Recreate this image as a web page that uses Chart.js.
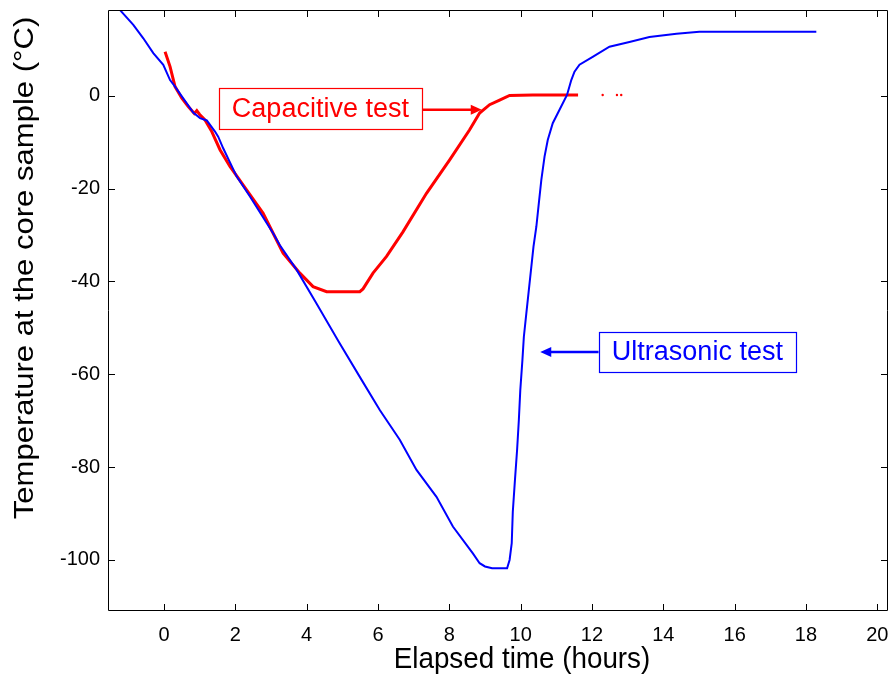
<!DOCTYPE html>
<html>
<head>
<meta charset="utf-8">
<script src="https://cdn.jsdelivr.net/npm/chart.js@4"></script>
<style>
  html, body { margin: 0; padding: 0; background: #fff; }
  canvas { display: block; }
</style>
</head>
<body>
<canvas id="c" width="895" height="683"></canvas>
<script>
// ---- Data ----
const ultrasonicTime = [-1.50, -1.20, -0.86, -0.58, -0.30, -0.02, 0.17, 0.31, 0.50, 0.82, 1.01, 1.20, 1.43, 1.52, 1.66, 2.04, 2.41, 3.06, 3.25, 3.72, 4.28, 4.90, 5.54, 6.05, 6.61, 7.08, 7.64, 8.10, 8.66, 8.85, 9.00, 9.20, 9.62, 9.69, 9.75, 9.78, 9.84, 9.90, 9.95, 9.99, 10.05, 10.09, 10.16, 10.23, 10.30, 10.36, 10.44, 10.51, 10.58, 10.67, 10.76, 10.90, 11.09, 11.30, 11.42, 11.51, 11.65, 12.02, 12.49, 13.05, 13.61, 14.37, 15.01, 18.29];
const ultrasonicTemp = [21.0, 18.2, 15.3, 12.4, 9.2, 6.7, 3.4, 2.0, -0.1, -3.6, -4.8, -5.3, -7.7, -8.8, -11.3, -17.4, -21.7, -29.6, -32.2, -37.5, -44.8, -53.0, -61.2, -67.7, -74.1, -80.6, -86.4, -92.8, -98.6, -100.7, -101.4, -101.8, -101.8, -100.0, -96.4, -89.6, -82.8, -76.3, -69.8, -63.4, -56.9, -51.9, -46.8, -41.8, -36.8, -32.5, -28.2, -23.1, -18.1, -13.1, -9.5, -5.9, -3.0, 0.2, 3.4, 5.2, 6.7, 8.4, 10.6, 11.6, 12.7, 13.4, 13.8, 13.8];

const capacitiveTime = [0.03, 0.17, 0.31, 0.50, 0.68, 0.85, 0.92, 1.00, 1.15, 1.34, 1.57, 1.85, 2.32, 2.78, 3.06, 3.34, 3.81, 4.18, 4.56, 5.49, 5.58, 5.86, 6.24, 6.70, 7.36, 8.01, 8.57, 8.85, 9.13, 9.41, 9.69, 10.34, 11.61];
const capacitiveTemp = [9.5, 6.3, 2.0, -0.5, -2.3, -3.8, -3.2, -4.0, -5.2, -7.7, -11.6, -15.2, -20.3, -25.3, -29.6, -33.9, -38.2, -41.1, -42.2, -42.2, -41.6, -38.2, -34.6, -29.3, -21.0, -13.8, -7.3, -3.7, -1.9, -0.9, 0.1, 0.2, 0.2];
const capacitiveSparseTime = [12.30, 12.70, 12.82];
const capacitiveSparseTemp = [0.2, 0.2, 0.2];

const xTickValues = [0, 2, 4, 6, 8, 10, 12, 14, 16, 18, 20];
const yTickValues = [-100, -80, -60, -40, -20, 0];
const xRange = [-1.57, 20.3];
const yRange = [-111, 18.5];

const xTitle = 'Elapsed time (hours)';
const yTitle = 'Temperature at the core sample (°C)';
const seriesNames = ['Ultrasonic test', 'Capacitive test'];

// annotation boxes in data units: [left, right, top, bottom], arrow [y, tipX]
const capBox = [1.54, 7.23, 1.72, -7.11];
const capArrow = [-3.0, 8.91];
const ultBox = [12.19, 17.72, -50.8, -59.4];
const ultArrow = [-55.2, 10.55];

const zip = (xs, ys) => xs.map((x, i) => ({ x, y: ys[i] }));

const TICK_FONT = { family: '"Liberation Sans Narrow", "Liberation Sans", Arial, sans-serif', size: 20 };

const framePlugin = {
  id: 'frame',
  afterDatasetsDraw(chart) {
    const { ctx, chartArea: a, scales } = chart;
    const xs = scales.x, ys = scales.y;
    ctx.save();
    ctx.strokeStyle = '#000';
    ctx.lineWidth = 1;
    ctx.beginPath();
    ctx.rect(Math.round(a.left) + 0.5, Math.round(a.top) + 0.5, Math.round(a.right - a.left) - 1, Math.round(a.bottom - a.top) - 1);
    ctx.stroke();
    const L = 7;
    ctx.beginPath();
    xTickValues.forEach(v => {
      const px = Math.round(xs.getPixelForValue(v)) + 0.5;
      ctx.moveTo(px, a.bottom); ctx.lineTo(px, a.bottom - L);
      ctx.moveTo(px, a.top); ctx.lineTo(px, a.top + L);
    });
    yTickValues.forEach(v => {
      const py = Math.round(ys.getPixelForValue(v)) + 0.5;
      ctx.moveTo(a.left, py); ctx.lineTo(a.left + L, py);
      ctx.moveTo(a.right, py); ctx.lineTo(a.right - L, py);
    });
    ctx.stroke();
    ctx.restore();
  },
  afterDraw(chart) {
    const { ctx, scales } = chart;
    const xs = scales.x, ys = scales.y;
    ctx.save();
    // axis titles
    ctx.fillStyle = '#000';
    ctx.font = '27px "Liberation Sans", Arial, sans-serif';
    ctx.textAlign = 'center';
    ctx.textBaseline = 'middle';
    ctx.save();
    ctx.translate(522, 660);
    ctx.scale(1.03, 1.12);
    ctx.fillText(xTitle, 0, 0);
    ctx.restore();
    ctx.save();
    ctx.translate(26, 268);
    ctx.rotate(-Math.PI / 2);
    ctx.scale(1.15, 1);
    ctx.fillText(yTitle, 0, 0);
    ctx.restore();

    const drawBox = (box, arrow, text, color, dir) => {
      const l = xs.getPixelForValue(box[0]), r = xs.getPixelForValue(box[1]);
      const t = ys.getPixelForValue(box[2]), b = ys.getPixelForValue(box[3]);
      const ay = ys.getPixelForValue(arrow[0]);
      const tip = xs.getPixelForValue(arrow[1]);
      const start = dir > 0 ? r : l;
      ctx.strokeStyle = color; ctx.fillStyle = color;
      ctx.lineWidth = 2.5;
      ctx.beginPath();
      ctx.moveTo(start, ay);
      ctx.lineTo(tip - dir * 9, ay);
      ctx.stroke();
      ctx.beginPath();
      ctx.moveTo(tip, ay);
      ctx.lineTo(tip - dir * 11, ay - 5);
      ctx.lineTo(tip - dir * 11, ay + 5);
      ctx.closePath();
      ctx.fill();
      ctx.fillStyle = '#fff';
      ctx.fillRect(l, t, r - l, b - t);
      ctx.lineWidth = 1.2;
      ctx.strokeRect(Math.round(l) + 0.5, Math.round(t) + 0.5, Math.round(r - l), Math.round(b - t));
      ctx.fillStyle = color;
      ctx.font = '27px "Liberation Sans", Arial, sans-serif';
      ctx.textAlign = 'center';
      ctx.textBaseline = 'middle';
      ctx.fillText(text, (l + r) / 2, (t + b) / 2 + 1);
    };
    drawBox(capBox, capArrow, seriesNames[1], '#ff0000', 1);
    drawBox(ultBox, ultArrow, seriesNames[0], '#0000ff', -1);
    ctx.restore();
  }
};

new Chart(document.getElementById('c'), {
  type: 'line',
  data: {
    datasets: [
      {
        label: seriesNames[0],
        data: zip(ultrasonicTime, ultrasonicTemp),
        borderColor: '#0000ff',
        borderWidth: 2,
        pointRadius: 0,
        tension: 0,
        fill: false
      },
      {
        label: seriesNames[1],
        data: zip(capacitiveTime, capacitiveTemp),
        borderColor: '#ff0000',
        borderWidth: 3,
        pointRadius: 0,
        tension: 0,
        fill: false
      },
      {
        label: seriesNames[1] + ' (sparse)',
        data: zip(capacitiveSparseTime, capacitiveSparseTemp),
        borderColor: '#ff0000',
        backgroundColor: '#ff0000',
        showLine: false,
        pointRadius: 1.2,
        pointBorderWidth: 0,
        fill: false
      }
    ]
  },
  options: {
    responsive: false,
    maintainAspectRatio: false,
    animation: false,
    devicePixelRatio: 1,
    layout: { padding: { top: 10, right: 7, left: 0, bottom: 0 } },
    plugins: { legend: { display: false }, tooltip: { enabled: false } },
    scales: {
      x: {
        type: 'linear',
        min: xRange[0], max: xRange[1],
        afterBuildTicks: s => { s.ticks = xTickValues.map(v => ({ value: v })); },
        afterFit: s => { s.height = 72; s.paddingLeft = 0; s.paddingRight = 0; },
        grid: { display: false, drawTicks: false },
        border: { display: false },
        ticks: { color: '#000', font: TICK_FONT, padding: 12, maxRotation: 0, autoSkip: false }
      },
      y: {
        type: 'linear',
        min: yRange[0], max: yRange[1],
        afterBuildTicks: s => { s.ticks = yTickValues.map(v => ({ value: v })); },
        afterFit: s => { s.width = 108; s.paddingTop = 0; s.paddingBottom = 0; },
        grid: { display: false, drawTicks: false },
        border: { display: false },
        ticks: { color: '#000', font: TICK_FONT, padding: 8, autoSkip: false }
      }
    }
  },
  plugins: [framePlugin]
});
</script>
</body>
</html>
